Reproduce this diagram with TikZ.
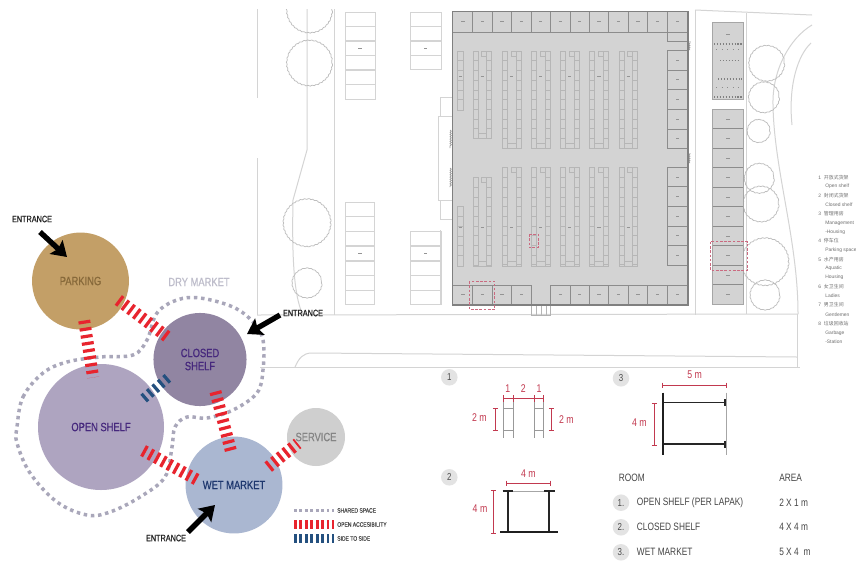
\documentclass[tikz,border=0pt]{standalone}
\usepackage{fontspec}
\setmainfont{Liberation Sans}
\newfontfamily\nar[FakeStretch=0.78]{Liberation Sans}
\newfontfamily\narb[FakeStretch=0.78,FakeBold=0.6]{Liberation Sans}
\newfontfamily\cjk{Noto Sans CJK SC}
\usetikzlibrary{arrows.meta,decorations.pathmorphing}
\definecolor{sitegrey}{HTML}{D4D4D4}
\definecolor{treegrey}{HTML}{BEBEBE}
\definecolor{shelfgrey}{HTML}{B6B6B6}
\definecolor{floorgrey}{HTML}{D3D3D3}
\definecolor{wallgrey}{HTML}{8C8C8C}
\definecolor{dimred}{HTML}{C2394F}
\definecolor{boxred}{HTML}{CB6A80}
\definecolor{barred}{HTML}{E8242E}
\definecolor{barblue}{HTML}{24507F}
\definecolor{loopgrey}{HTML}{A9A7BA}
\definecolor{listgrey}{HTML}{6F6F6F}
\definecolor{tablegrey}{HTML}{454545}
\tikzset{
  x=0.75pt,y=-0.75pt,
  bubble/.style={circle,inner sep=0pt,align=center,font=\narb\fontsize{9}{9.8}\selectfont},
  openlink/.style={draw=barred,line width=9pt,dash pattern=on 2.4pt off 3pt},
  sidelink/.style={draw=barblue,line width=7.5pt,dash pattern=on 2.4pt off 3pt},
  dryloop/.style={draw=loopgrey,line width=2.6pt,dash pattern=on 2.6pt off 2.8pt},
  entryarrow/.style={draw=black,line width=4pt,-{Stealth[length=11pt,width=14pt,inset=2pt]}},
  entrytext/.style={inner sep=0pt,text=black!85,font=\narb\fontsize{7}{8}\selectfont},
  legendtext/.style={inner sep=0pt,anchor=west,text=black!70,font=\narb\fontsize{4.8}{5}\selectfont},
  site/.style={draw=sitegrey,line width=0.75pt},
  slot/.style={draw=sitegrey,line width=0.75pt},
  tree/.style={draw=treegrey,line width=0.55pt,decorate,decoration={bumps,segment length=6pt,amplitude=0.8pt}},
  shelfline/.style={draw=shelfgrey,line width=0.4pt},
  wall/.style={draw=wallgrey,line width=0.75pt},
  redbox/.style={draw=boxred,line width=0.7pt,dash pattern=on 2pt off 1.2pt},
  dim/.style={draw=dimred,line width=0.6pt},
  dimtext/.style={inner sep=0pt,text=dimred,font=\nar\fontsize{8.4}{9}\selectfont},
  badge/.style={circle,fill=black!11,minimum size=12.4pt,inner sep=0pt,text=black!70,font=\nar\fontsize{7.6}{8}\selectfont},
  tabletext/.style={inner sep=0pt,anchor=west,text=tablegrey,font=\nar\fontsize{8}{9}\selectfont},
  listtext/.style={inner sep=0pt,anchor=west,text=listgrey,font=\fontsize{3.7}{4}\selectfont},
  blackbar/.style={draw=black!85,line width=1.1pt},
  heavybar/.style={draw=black!88,line width=1.9pt},
  greybar/.style={draw=black!35,line width=0.9pt}
}
\newcommand\shelfblock[4]{%
  \draw[shelfline] (#1,#3) rectangle ({#1+5},#4);
  \draw[shelfline] ({#2-5},#3) rectangle (#2,#4);
  \draw[shelfline] ({#1+5},{#4-5}) -- ({#2-5},{#4-5});
  \draw[shelfline] ({#1+5},#4) -- ({#2-5},#4);
  \draw[shelfline] ({#2-10},#3) rectangle ({#2-5},{#3+5});
  \pgfmathtruncatemacro\nrows{(#4-#3)/9.7}
  \foreach \k in {1,...,\nrows}{
    \draw[shelfline] (#1,{#3+\k*9.7}) -- ({#1+5},{#3+\k*9.7});
    \draw[shelfline] ({#2-5},{#3+\k*9.7}) -- (#2,{#3+\k*9.7});
  }
}
\newcommand\smudge[2]{\draw[black!42,line width=0.7pt] ({#1-1.6},#2) -- ({#1+1.6},#2);}
\begin{document}
\begin{tikzpicture}
\useasboundingbox (0,0) rectangle (856,561);
\fill[white] (0,0) rectangle (856,561);

% ---------- site lines ----------
\draw[site] (257,9) -- (257,98);
\draw[site] (257,158) -- (257,315);
\draw[site] (334,9) -- (334,315);
\draw[site] (307,9) -- (307,150) -- (293,200) .. controls (292,250) and (293,295) .. (303,315);
\draw[site] (257,315) -- (798,314);
\draw[site] (260,367) -- (800,367);
\draw[site] (295,367) .. controls (299,358) and (303,353) .. (312,353) -- (797,357);
\draw[site] (797,314) -- (797,367);
\draw[site] (695,10) -- (695,315);
\draw[site] (746.7,13) -- (746.7,314);
\draw[site] (695,10) -- (812,15);
\draw[site] (812,25) .. controls (790,38) and (772,70) .. (773,105) .. controls (774,170) and (798,240) .. (798,314);
\draw[site] (811,43) .. controls (798,55) and (788,85) .. (792,125);

% trees
\begin{scope}
\clip (250,9) rectangle (830,320);
\foreach \tx/\ty/\tr in {309.5/10/22,309.5/63/22,307/222.7/23,307/283/14,766.7/63.3/17,764/97.3/14.5,758.7/131/10.5,759.3/178.3/14,761/204/17,765/261.7/23,765/295/14}{
  \draw[tree] (\tx,\ty) circle [radius=\tr];
}
\end{scope}

% parking slots
\foreach \xa/\xb/\yy in {
  345.3/375/12.3,345.3/375/26.3,345.3/375/41,345.3/375/55.3,345.3/375/70,345.3/375/84.7,
  410.7/441/12.3,410.7/441/26.3,410.7/441/41,410.7/441/55.3,
  345.7/374.7/202.3,345.7/374.7/216.7,345.7/374.7/231.3,345.7/374.7/246.3,345.7/374.7/261,345.7/374.7/275.7,345.7/374.7/290,
  410.7/441/231.3,410.7/441/246.3,410.7/441/261,410.7/441/275.7,410.7/441/290}{
  \draw[slot] (\xa,\yy) rectangle (\xb,{\yy+14.5});
}
\foreach \mx/\my in {360/48,425.7/48,360/253,425.7/253}{\smudge{\mx}{\my}}

% annex west of the hall
\draw[site] (440,97) rectangle (452.7,116);
\draw[site] (438.5,116) rectangle (452.7,200);
\draw[site] (440,200) rectangle (452.7,219);
\draw[site] (440,230) -- (440,305);

% ---------- main hall ----------
\fill[floorgrey] (452.7,11.7) rectangle (688,305);
\draw[draw=black!30,line width=0.5pt] (531.7,305) rectangle (550,315);
\draw[shelfline] (536,305) -- (536,315) (541,305) -- (541,315) (546,305) -- (546,315);
% door scallops
\foreach \ya/\yb in {130/148,168/187}{
  \draw[draw=black!40,line width=0.5pt,decorate,decoration={bumps,segment length=3.4pt,amplitude=1pt}] (450,\ya) -- (450,\yb);
}
\foreach \ya/\yb in {41/50,153/163}{
  \draw[draw=black!40,line width=0.5pt,decorate,decoration={bumps,segment length=3.4pt,amplitude=1pt}] (690,\yb) -- (690,\ya);
}
% stalls: top row
\draw[wall] (452.7,32) -- (688,32);
\foreach \sx in {472.7,492.3,511.7,531,550.3,570,589.3,608.7,628.3,647.7,667.3}{
  \draw[wall] (\sx,11.7) -- (\sx,32);
}
\foreach \sx in {462.9,482.5,502,521.4,540.7,560.2,579.7,599,618.5,638,657.5,677.6}{\smudge{\sx}{21.5}}
% stalls: right column
\draw[wall] (667.3,32) -- (667.3,41) -- (688,41);
\foreach \sy in {50.7,70,89.3,109,129,148.3,167.5,186.7,206,226,245.3,265,285}{
  \draw[wall] (667.3,\sy) -- (688,\sy);
}
\draw[wall] (667.3,50.7) -- (667.3,148.3);
\draw[wall] (667.3,167.5) -- (667.3,265);
\foreach \sy in {60.3,79.6,99.1,119,138.6,177,196.3,216,235.6,255.1}{\smudge{677.6}{\sy}}
% stalls: bottom row
\draw[wall] (452.7,285) -- (531,285);
\draw[wall] (550.3,285) -- (688,285);
\foreach \sx in {472.7,492.3,511.7,531,550.3,570,589.3,608.7,628.3,647.7,667.3}{
  \draw[wall] (\sx,285) -- (\sx,305);
}
\foreach \sx in {462.9,482.5,502,521.4,560.2,579.7,599,618.5,638,657.5,677.6}{\smudge{\sx}{294}}
% hall outline
\draw[draw=black!50,line width=0.9pt] (452.7,11.7) rectangle (688,305);

% shelves
\draw[shelfline] (457.7,51) rectangle (463.3,110);
\draw[shelfline] (457.7,206.7) rectangle (463.3,266);
\foreach \k in {1,...,5}{
  \draw[shelfline] (457.7,{51+\k*9.7}) -- (463.3,{51+\k*9.7});
  \draw[shelfline] (457.7,{206.7+\k*9.7}) -- (463.3,{206.7+\k*9.7});
}
\shelfblock{473}{491.7}{51}{138}
\shelfblock{473}{491.7}{177.5}{266}
\foreach \sa/\sb in {502/521,531.3/550.3,560.3/579.3,589.7/608.3,619/637.7}{
  \shelfblock{\sa}{\sb}{51}{148}
  \shelfblock{\sa}{\sb}{167.7}{266}
}
\foreach \sx in {460.5,482.3,511.5,540.8,569.8,599,628.3}{
  \smudge{\sx}{76.5}
  \smudge{\sx}{227.3}
}

% red dashed frames in the hall
\draw[redbox] (529,234) rectangle (538,247.7);
\draw[redbox] (469.3,281) rectangle (494.7,309.3);

% ---------- east building ----------
\fill[floorgrey] (712.7,22) rectangle (743.3,99.3);
\fill[floorgrey] (712.7,109.7) rectangle (743.3,304);
\draw[draw=black!35,line width=0.5pt] (712.7,22) rectangle (743.3,99.3);
\draw[draw=black!35,line width=0.5pt] (712.7,109.7) rectangle (743.3,304);
\foreach \sy in {128.7,148.3,167.7,187.3,206.7,226.3,245.7,265.3,284.7}{
  \draw[wall] (712.7,\sy) -- (743.3,\sy);
}
\foreach \sy in {119,138.5,158,177.5,197,216.5,236,255.5,275,294.3,34}{\smudge{728}{\sy}}
\foreach \ly/\la/\lb in {44/714/742,60.5/720/740,79/718/742,97/714/742}{
  \draw[black!50,line width=0.9pt,dash pattern=on 1pt off 1.2pt] (\la,\ly) -- (\lb,\ly);
}
\foreach \ly/\la/\lb in {49/716/740,87/716/740}{
  \draw[black!45,line width=0.7pt,dash pattern=on 0.8pt off 3.4pt] (\la,\ly) -- (\lb,\ly);
}
\draw[redbox] (710,241.7) rectangle (747.7,270);

% ---------- room list ----------
\node[listtext] (l1) at (818,177.7) {1\hspace{2.2pt}{\cjk 开放式货架}};
\node[listtext] (l1e) at (825,186.7) {Open shelf};
\node[listtext] (l2) at (818,196) {2\hspace{2.2pt}{\cjk 封闭式货架}};
\node[listtext] (l2e) at (825,205) {Closed shelf};
\node[listtext] (l3) at (818,214) {3\hspace{2.2pt}{\cjk 管理用房}};
\node[listtext] (l3e) at (825,223) {Management};
\node[listtext] (l3f) at (825,232) {-Housing};
\node[listtext] (l4) at (818,241) {4\hspace{2.2pt}{\cjk 停车位}};
\node[listtext] (l4e) at (825,250.7) {Parking space};
\node[listtext] (l5) at (818,259.7) {5\hspace{2.2pt}{\cjk 水产用房}};
\node[listtext] (l5e) at (825,268.7) {Aquatic};
\node[listtext] (l5f) at (825,277.7) {Housing};
\node[listtext] (l6) at (818,286.7) {6\hspace{2.2pt}{\cjk 女卫生间}};
\node[listtext] (l6e) at (825,296) {Ladies};
\node[listtext] (l7) at (818,305) {7\hspace{2.2pt}{\cjk 男卫生间}};
\node[listtext] (l7e) at (825,315) {Gentlemen};
\node[listtext] (l8) at (818,324) {8\hspace{2.2pt}{\cjk 垃圾回收站}};
\node[listtext] (l8e) at (825,333) {Garbage};
\node[listtext] (l8f) at (825,342) {-Station};

% ---------- bubble diagram ----------
\draw[dryloop] plot[smooth cycle,tension=0.6] coordinates {
  (17,427) (23,397) (43,373) (67,362) (100,357) (133,355) (147,340) (157,313)
  (177,300) (200,298) (233,307) (253,322) (263,340) (263,370) (257,393) (233,410)
  (207,418) (187,417) (175,427) (172,447) (165,477) (140,497) (110,512) (87,515)
  (57,502) (30,473) (17,443)};

\node[bubble,fill={rgb,255:red,195;green,159;blue,103},minimum size=72.7pt,text={rgb,255:red,135;green,105;blue,58}] (parking) at (80.5,281) {PARKING};
\node[bubble,fill={rgb,255:red,145;green,133;blue,162},minimum size=69.8pt,text={rgb,255:red,70;green,40;blue,125}] (closed) at (200,359.5) {CLOSED\\SHELF};
\node[bubble,fill={rgb,255:red,174;green,164;blue,192},minimum size=94.5pt,text={rgb,255:red,70;green,40;blue,125}] (open) at (101,427) {OPEN SHELF};
\node[bubble,fill={rgb,255:red,170;green,183;blue,209},minimum size=72.7pt,text={rgb,255:red,30;green,55;blue,110}] (wet) at (234,485) {WET MARKET};
\node[bubble,fill={rgb,255:red,207;green,207;blue,207},minimum size=43.5pt,text=black!48] (service) at (316,437) {SERVICE};
\node[inner sep=0pt,text={rgb,255:red,190;green,189;blue,203},font=\narb\fontsize{9}{10}\selectfont] (dry) at (199,282) {DRY MARKET};

\draw[openlink,shorten <=-4.9pt,shorten >=-6.8pt] (parking.-28) -- (closed.145);
\draw[openlink,shorten <=-6.8pt,shorten >=-9.8pt] (parking.-84) -- (open.99.6);
\draw[sidelink,shorten <=-7.5pt,shorten >=-11.3pt] (closed.-148) -- (open.35.5);
\draw[openlink,shorten <=-8.5pt,shorten >=-10.6pt] (closed.-67.5) -- (wet.98);
\draw[openlink,shorten <=-11.3pt,shorten >=-8.6pt] (open.-29) -- (wet.167.3);
\draw[openlink,shorten <=-7.7pt,shorten >=-7.7pt] (wet.30) -- (service.-154.5);

\coordinate (e1a) at (40,232);
\coordinate (e1b) at (67,257);
\coordinate (e2a) at (280,315);
\coordinate (e2b) at (247,334);
\coordinate (e3a) at (188,532);
\coordinate (e3b) at (215,505);
\draw[entryarrow] (e1a) -- (e1b);
\draw[entryarrow] (e2a) -- (e2b);
\draw[entryarrow] (e3a) -- (e3b);
\node[entrytext] (ent1) at (32,219) {ENTRANCE};
\node[entrytext] (ent2) at (303,313) {ENTRANCE};
\node[entrytext] (ent3) at (166,538) {ENTRANCE};

% bubble legend
\node[legendtext] (lg1) at (337,510.5) {SHARED SPACE};
\node[legendtext] (lg2) at (337,524.5) {OPEN ACCESIBILITY};
\node[legendtext] (lg3) at (337,538.5) {SIDE TO SIDE};
\coordinate (lga) at (294,510.5);
\coordinate (lgb) at (294,524.5);
\coordinate (lgc) at (294,538.5);
\draw[draw=loopgrey,line width=2.4pt,dash pattern=on 2pt off 2.1pt,shorten >=2.4pt] (lga) -- (lg1.west);
\draw[draw=barred,line width=6.2pt,dash pattern=on 2pt off 2.1pt,shorten >=2.4pt] (lgb) -- (lg2.west);
\draw[draw=barblue,line width=6.2pt,dash pattern=on 2pt off 2.1pt,shorten >=2.4pt] (lgc) -- (lg3.west);

% ---------- detail 1 ----------
\node[badge] (b1) at (449.3,377.3) {1};
\foreach \sa/\sb in {503.3/513.3,534/543.7}{
  \draw[draw=black!40,line width=0.6pt] (\sa,401.7) -- (\sa,438.3) (\sb,401.7) -- (\sb,438.3);
  \draw[draw=black!40,line width=0.6pt] (\sa,408.3) -- (\sb,408.3) (\sa,430) -- (\sb,430);
}
\draw[dim] (503.3,398.3) -- (543.7,398.3);
\foreach \tx in {503.3,513.3,534,543.7}{\draw[dim] (\tx,395) -- (\tx,401.5);}
\node[dimtext] (d1a) at (507.7,388.3) {1};
\node[dimtext] (d1b) at (523.3,388.3) {2};
\node[dimtext] (d1c) at (539,388.3) {1};
\draw[dim] (495.3,408.3) -- (495.3,430) (492.8,408.3) -- (497.8,408.3) (492.8,430) -- (497.8,430);
\draw[dim] (551.3,408.3) -- (551.3,430) (548.8,408.3) -- (553.8,408.3) (548.8,430) -- (553.8,430);
\node[dimtext] (d1d) at (479.3,417.3) {2 m};
\node[dimtext] (d1e) at (566.3,420) {2 m};

% ---------- detail 2 ----------
\node[badge] (b2) at (449.3,477.3) {2};
\draw[greybar,line width=0.5pt] (513.3,491) -- (544,491);
\draw[blackbar] (502.7,491) -- (513.3,491) (544,491) -- (555,491);
\draw[blackbar,line width=1.4pt] (507.7,491) -- (507.7,532.3) (549.3,491) -- (549.3,532.3);
\draw[heavybar,line width=1.6pt] (500,532.3) -- (557.7,532.3);
\draw[dim] (506.7,483) -- (550,483) (506.7,480.5) -- (506.7,485.5) (550,480.5) -- (550,485.5);
\draw[dim] (493.3,490) -- (493.3,533.3) (490.8,490) -- (495.8,490) (490.8,533.3) -- (495.8,533.3);
\node[dimtext] (d2a) at (528.3,473.3) {4 m};
\node[dimtext] (d2b) at (480,509) {4 m};

% ---------- detail 3 ----------
\node[badge] (b3) at (621,378.3) {3};
\draw[greybar] (726.7,392.7) -- (726.7,455);
\draw[blackbar] (663,402.3) -- (725,402.3) (663,444) -- (725,444);
\draw[blackbar] (725,399) -- (725,405.5) (725,440.5) -- (725,447.5);
\draw[heavybar] (663,392.7) -- (663,455);
\draw[dim] (662.7,385) -- (726.7,385) (662.7,382.5) -- (662.7,387.5) (726.7,382.5) -- (726.7,387.5);
\draw[dim] (654.3,403.3) -- (654.3,445) (651.8,403.3) -- (656.8,403.3) (651.8,445) -- (656.8,445);
\node[dimtext] (d3a) at (694.7,374.3) {5 m};
\node[dimtext] (d3b) at (639.3,422.7) {4 m};

% ---------- table ----------
\node[tabletext] (th1) at (618.7,477.7) {ROOM};
\node[tabletext] (th2) at (779,477.7) {AREA};
\node[badge] (t1) at (621,502.7) {1.};
\node[badge] (t2) at (621,527.3) {2.};
\node[badge] (t3) at (621,552.3) {3.};
\node[tabletext] (r1) at (636.7,502.7) {OPEN SHELF (PER LAPAK)};
\node[tabletext] (r2) at (636.7,527.3) {CLOSED SHELF};
\node[tabletext] (r3) at (636.7,552.3) {WET MARKET};
\node[tabletext] (a1) at (779,502.7) {2 X 1 m};
\node[tabletext] (a2) at (779,527.3) {4 X 4 m};
\node[tabletext] (a3) at (779,552.3) {5 X 4\hspace{2pt} m};
\end{tikzpicture}
\end{document}
